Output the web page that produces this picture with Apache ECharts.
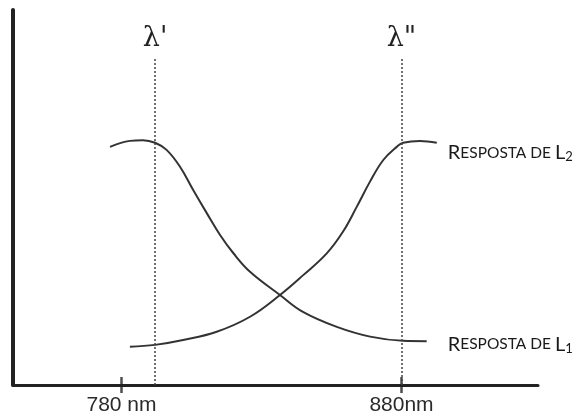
<!DOCTYPE html>
<html>
<head>
<meta charset="utf-8">
<script src="https://cdn.jsdelivr.net/npm/echarts@6/dist/echarts.min.js"></script>
<style>
  html, body { margin: 0; padding: 0; background: #fff; }
  #chart { width: 585px; height: 420px; }
</style>
</head>
<body>
<div id="chart"></div>
<script>
// Wavelength (nm) and relative response of the two sensors
const l1Wavelength = [775.9, 783.0, 787.7, 792.0, 796.1, 800.9, 805.6, 810.4, 815.2, 819.9, 825.9, 836.6, 844.8, 856.9, 868.8, 880.5, 889.0];
const l1Response   = [63.5, 65.1, 65.3, 64.6, 62.7, 58.2, 52.0, 45.9, 40.0, 35.2, 30.2, 24.0, 19.5, 15.5, 12.9, 11.8, 11.7];

const l2Wavelength = [783.0, 792.0, 802.0, 814.0, 825.9, 836.6, 844.9, 853.3, 859.2, 864.0, 868.8, 873.5, 878.3, 880.6, 886.6, 892.6];
const l2Response   = [10.2, 10.7, 12.0, 14.2, 18.2, 24.0, 29.3, 35.1, 41.0, 47.5, 54.3, 60.0, 63.5, 64.6, 65.1, 64.6];

// Axis ticks and the two marked wavelengths
const tickValues = [780, 880];
const tickLabels = ['780 nm', '880nm'];
const lambdaValues = [792, 880];
const lambdaLabels = ["λ'", 'λ"'];
const lambdaTop = 87;

const curveColor = '#333';

function pairs(xs, ys) { return xs.map((x, i) => [x, ys[i]]); }

function responseLabel(sub) {
  return '{a|R}{b|ESPOSTA DE }{a|L}{s|' + sub + '}';
}
const labelRich = {
  a: { fontFamily: 'Lato', fontSize: 20, color: '#1a1a1a' },
  b: { fontFamily: 'Lato', fontSize: 15.5, color: '#1a1a1a' },
  s: { fontFamily: 'Lato', fontSize: 13, color: '#1a1a1a', padding: [9, 0, 0, 0] }
};

const chart = echarts.init(document.getElementById('chart'), null, { renderer: 'canvas' });

chart.setOption({
  animation: false,
  backgroundColor: '#fff',
  grid: { left: 13, right: 47, top: 10, bottom: 35 },
  xAxis: {
    type: 'value',
    min: 741.25,
    max: 928.75,
    splitLine: { show: false },
    axisLine: { show: true, onZero: false, lineStyle: { color: '#222', width: 3 } },
    axisTick: { show: false },
    axisLabel: {
      show: true,
      customValues: tickValues,
      formatter: v => tickLabels[tickValues.indexOf(v)] || '',
      fontFamily: 'Liberation Sans',
      fontSize: 21,
      color: '#2a2a2a',
      margin: 10
    }
  },
  yAxis: {
    type: 'value',
    min: 0,
    max: 100,
    splitLine: { show: false },
    axisLine: { show: true, lineStyle: { color: '#222', width: 4 } },
    axisTick: { show: false },
    axisLabel: { show: false }
  },
  series: [
    {
      name: 'L1',
      type: 'line',
      smooth: 0.4,
      symbol: 'none',
      data: pairs(l1Wavelength, l1Response),
      lineStyle: { color: curveColor, width: 2 },
      endLabel: {
        show: true,
        formatter: () => responseLabel('1'),
        rich: labelRich,
        distance: 21,
        offset: [0, 3]
      },
      markLine: {
        silent: true,
        symbol: 'none',
        lineStyle: { color: '#444', width: 1.5, type: [2, 2] },
        label: {
          show: true,
          position: 'end',
          distance: 6,
          fontFamily: 'DejaVu Serif',
          fontSize: 27,
          color: '#222'
        },
        data: lambdaValues.map((v, i) => [
          { coord: [v, 0] },
          { coord: [v, lambdaTop], label: { formatter: lambdaLabels[i] } }
        ])
      }
    },
    {
      name: 'L2',
      type: 'line',
      smooth: 0.4,
      symbol: 'none',
      data: pairs(l2Wavelength, l2Response),
      lineStyle: { color: curveColor, width: 2 },
      endLabel: {
        show: true,
        formatter: () => responseLabel('2'),
        rich: labelRich,
        distance: 11,
        offset: [0, 10]
      }
    },
    {
      name: 'ticks',
      type: 'scatter',
      silent: true,
      clip: false,
      symbol: 'rect',
      symbolSize: [2.5, 16],
      itemStyle: { color: '#222' },
      data: tickValues.map(v => [v, 0])
    }
  ]
});
</script>
</body>
</html>
